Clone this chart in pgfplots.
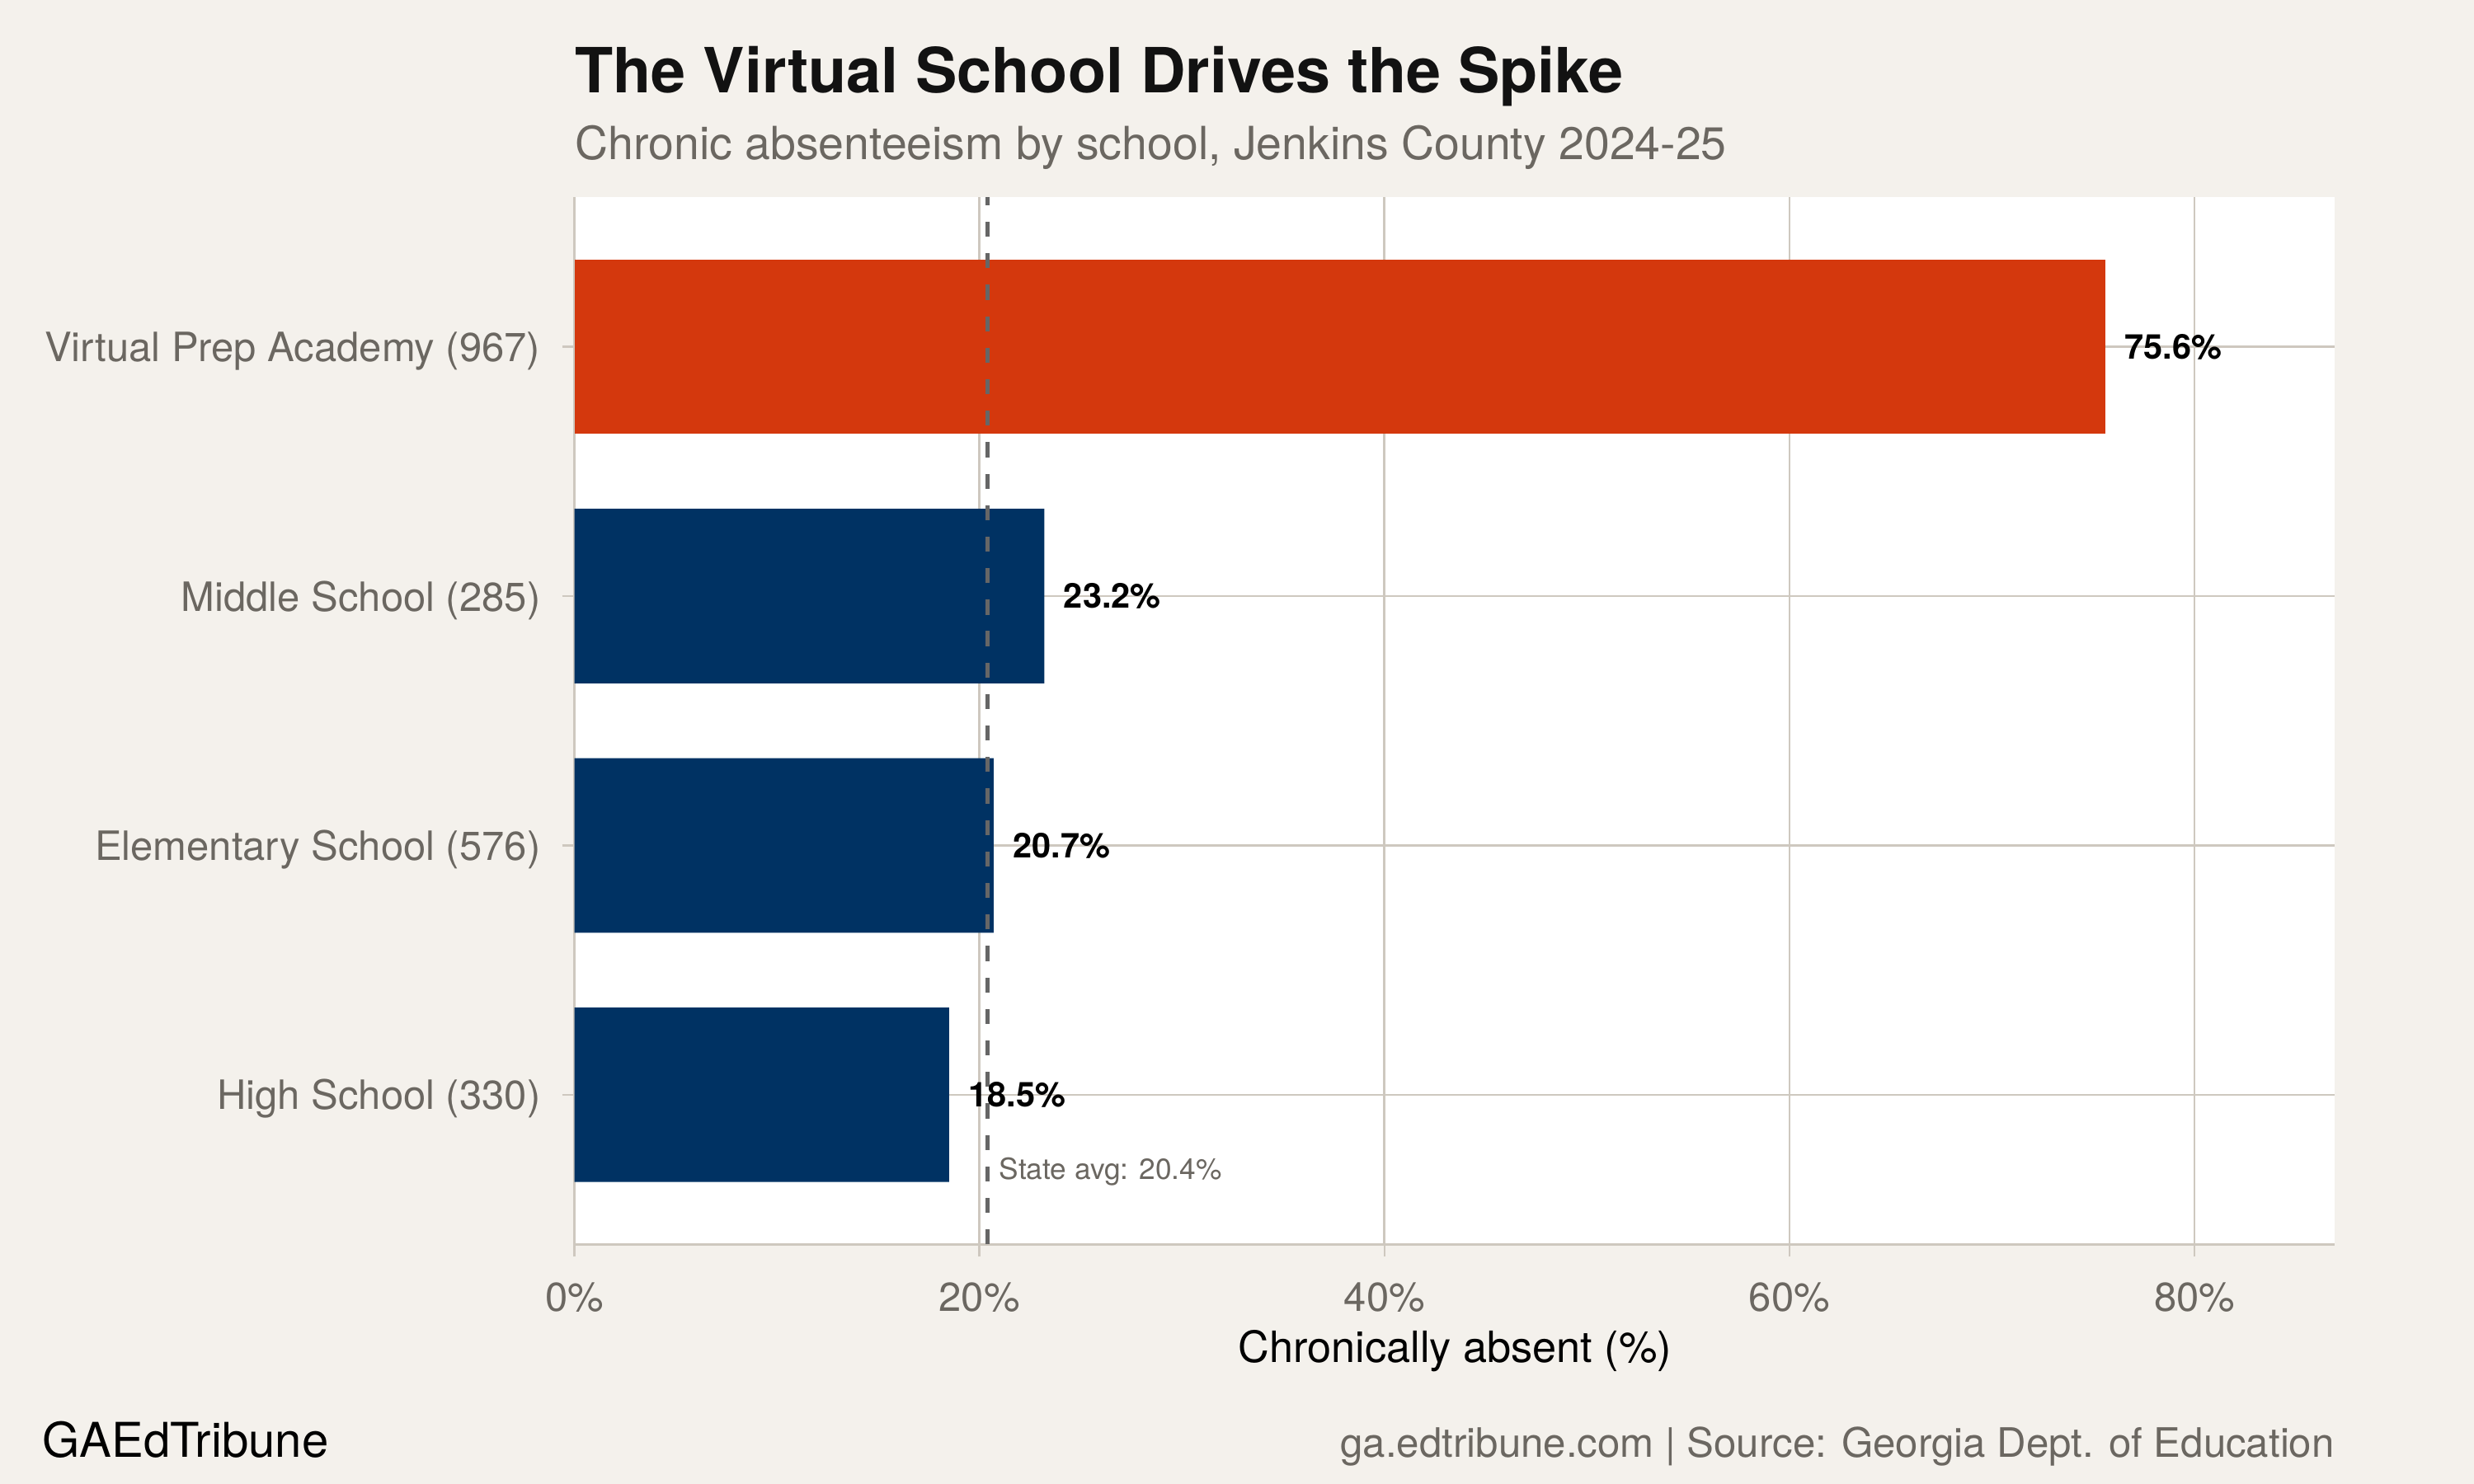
\documentclass[border=0pt]{standalone}
\usepackage{fontspec}
\setmainfont{TeX Gyre Heros}
\usepackage{pgfplots}
\pgfplotsset{compat=1.18}

\definecolor{bgcol}{HTML}{F4F1EC}
\definecolor{gridcol}{HTML}{CEC8BF}
\definecolor{tickcol}{HTML}{6B6761}
\definecolor{navy}{HTML}{003263}
\definecolor{vred}{HTML}{D4380D}
\definecolor{dashcol}{HTML}{666666}

\begin{document}
\begin{tikzpicture}
\fill[bgcol] (0,0) rectangle (722.7pt,433.6pt);
\path[use as bounding box] (0,0) rectangle (722.7pt,433.6pt);

\begin{axis}[
    at={(167.8pt,70.0pt)}, anchor=south west,
    scale only axis,
    width=514.3pt, height=306pt,
    xbar, bar width=0.7, bar shift=0pt,
    xmin=0, xmax=86.94,
    ymin=-0.6, ymax=3.6,
    xtick={0,20,40,60,80},
    xticklabels={0\%,20\%,40\%,60\%,80\%},
    ytick={0,1,2,3},
    yticklabels={High School (330),Elementary School (576),Middle School (285),Virtual Prep Academy (967)},
    axis background/.style={fill=white},
    grid=major,
    major grid style={gridcol, line width=0.65pt},
    axis x line*=bottom, axis y line*=left,
    axis line style={gridcol, line width=0.75pt},
    tick align=outside, major tick length=3.6pt,
    tick style={gridcol, line width=0.6pt},
    ticklabel style={font=\fontsize{11.8}{14}\selectfont, text=tickcol},
    xticklabel style={yshift=-4pt},
    yticklabel style={xshift=-2.8pt, yshift=-1.2pt},
    point meta=explicit symbolic,
    nodes near coords,
    nodes near coords style={font=\fontsize{10}{12}\selectfont\bfseries, anchor=west, inner sep=0pt, xshift=5.5pt, text=black},
    clip=false,
]
\addplot[fill=navy, draw=none] coordinates {
    (18.5,0) [18.5\%]
    (20.7,1) [20.7\%]
    (23.2,2) [23.2\%]
};
\addplot[fill=vred, draw=none] coordinates {
    (75.6,3) [75.6\%]
};
\draw[dashcol, line width=1pt, dash pattern=on 4.4pt off 4.8pt] (axis cs:20.4,-0.6) -- (axis cs:20.4,3.6);
\node[anchor=west, xshift=3.2pt, inner sep=0pt, font=\fontsize{8.5}{10}\selectfont, text=tickcol] at (axis cs:20.4,-0.31) {State avg: 20.4\%};
\end{axis}

% titles and captions
\node[anchor=base west, inner sep=0pt, font=\fontsize{18.2}{21}\selectfont\bfseries, text=black!93] at (167.8pt,406.6pt) {The Virtual School Drives the Spike};
\node[anchor=base west, inner sep=0pt, font=\fontsize{13.35}{16}\selectfont, text=tickcol] at (167.8pt,387.1pt) {Chronic absenteeism by school, Jenkins County 2024-25};
\node[anchor=base, inner sep=0pt, font=\fontsize{12.6}{15}\selectfont, text=black] at (425pt,35.5pt) {Chronically absent (\%)};
\node[anchor=base west, inner sep=0pt, font=\fontsize{14}{16}\selectfont, text=black] at (12.3pt,7.9pt) {GAEdTribune};
\node[anchor=base east, inner sep=0pt, font=\fontsize{11.85}{14}\selectfont, text=tickcol] at (682.1pt,7.9pt) {ga.edtribune.com | Source: Georgia Dept. of Education};
\end{tikzpicture}
\end{document}
